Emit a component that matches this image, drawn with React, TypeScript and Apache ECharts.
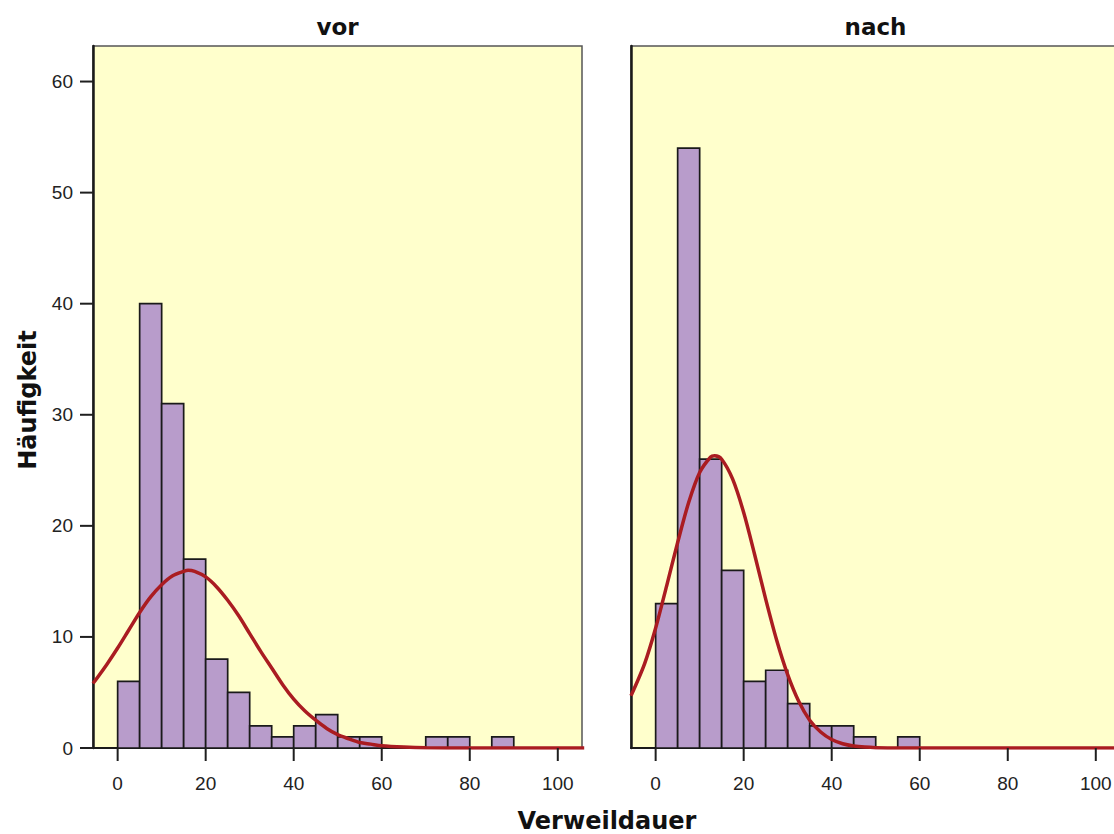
import React, { useEffect, useRef } from "react";
import * as echarts from "echarts";

// Histogram bins (width 5, starting at 0)
const binWidth = 5;
const vorCounts = [6, 40, 31, 17, 8, 5, 2, 1, 2, 3, 1, 1, 0, 0, 1, 1, 0, 1];
const nachCounts = [13, 54, 26, 16, 6, 7, 4, 2, 2, 1, 0, 1];

// Normal curve points
const vorCurveX = [-5.6, -2.5, 0, 2.5, 5, 7.5, 10, 12.5, 15, 16, 17.5, 20, 22.5, 25, 27.5, 30, 32.5, 35, 37.5, 40, 42.5, 45, 47.5, 50, 52.5, 55, 57.5, 60, 65, 70, 80, 106];
const vorCurveY = [5.8, 7.5, 9.0, 10.6, 12.2, 13.6, 14.7, 15.5, 15.9, 16.0, 15.9, 15.4, 14.5, 13.3, 11.9, 10.3, 8.7, 7.2, 5.7, 4.4, 3.35, 2.5, 1.76, 1.2, 0.83, 0.5, 0.35, 0.2, 0.08, 0.02, 0, 0];
const nachCurveX = [-5.6, -2.5, 0, 2.5, 5, 7.5, 10, 12.5, 13.4, 15, 17.5, 20, 22.5, 25, 27.5, 30, 32.5, 35, 37.5, 40, 42.5, 45, 47.5, 50, 55, 106];
const nachCurveY = [4.7, 7.6, 10.8, 14.6, 18.5, 22.1, 24.8, 26.2, 26.3, 26.0, 24.2, 21.2, 17.4, 13.4, 9.7, 6.6, 4.2, 2.5, 1.44, 0.76, 0.38, 0.18, 0.08, 0.03, 0, 0];

// Tick labels
const xTicks = [0, 20, 40, 60, 80, 100];
const yTicks = [0, 10, 20, 30, 40, 50, 60];
const panelTitles = ["vor", "nach"];
const xTitle = "Verweildauer";
const yTitle = "Häufigkeit";

const X_MIN = -5.6;
const X_MAX = 105.5;
const Y_MAX = 63.2;

const BAR_FILL = "#b89ccb";
const BG = "#ffffcc";
const CURVE = "#aa1c21";
const TICK_FONT = "Liberation Sans, Arial, sans-serif";
const TITLE_FONT = "DejaVu Sans, Verdana, sans-serif";
const TICK_W = 2;

function histData(counts: number[]) {
  const out: number[][] = [];
  counts.forEach((c, i) => {
    if (c > 0) out.push([i * binWidth, (i + 1) * binWidth, c]);
  });
  return out;
}

function renderBar(params: any, api: any) {
  const x0 = api.value(0);
  const x1 = api.value(1);
  const c = api.value(2);
  const p0 = api.coord([x0, c]);
  const p1 = api.coord([x1, 0]);
  return {
    type: "rect",
    shape: { x: p0[0], y: p0[1], width: p1[0] - p0[0], height: p1[1] - p0[1] },
    style: { fill: BAR_FILL, stroke: "#1a1a1a", lineWidth: 1.7 },
  };
}

// x ticks: drawn inside a thin strip grid under each panel (y from 1 at the axis to 0 at the tick end)
function renderXTick(params: any, api: any) {
  const top = api.coord([api.value(0), 1]);
  const bottom = api.coord([api.value(0), 0]);
  return {
    type: "rect",
    shape: { x: top[0] - TICK_W / 2, y: top[1], width: TICK_W, height: bottom[1] - top[1] },
    style: { fill: "#1f1f1f" },
  };
}

// y ticks: drawn inside a thin strip grid left of the first panel (x from 0 to 1)
function renderYTick(params: any, api: any) {
  const l = api.coord([0, api.value(1)]);
  const r = api.coord([1, api.value(1)]);
  return {
    type: "rect",
    shape: { x: l[0], y: l[1] - TICK_W / 2, width: r[0] - l[0], height: TICK_W },
    style: { fill: "#1f1f1f" },
  };
}

function textEl(text: string, x: number, y: number, size: number, rotation = 0) {
  return {
    type: "text",
    x,
    y,
    rotation,
    style: { text, font: `bold ${size}px ${TITLE_FONT}`, fill: "#111", textAlign: "center", textVerticalAlign: "middle" },
  };
}

export default function App() {
  const ref = useRef<HTMLDivElement>(null);
  useEffect(() => {
    if (!ref.current) return;
    const chart = echarts.init(ref.current, undefined, { renderer: "svg" });
    const panelGrids = [
      { left: 93, top: 46, width: 489, height: 702 },
      { left: 631, top: 46, width: 489, height: 702 },
    ].map((g) => ({
      ...g,
      show: true,
      containLabel: false,
      outerBoundsMode: "none",
      backgroundColor: BG,
      borderColor: "#555",
      borderWidth: 1.5,
    }));
    const tickGrids = [
      { left: 93, top: 748, width: 489, height: 13 },
      { left: 631, top: 748, width: 489, height: 13 },
      { left: 80, top: 46, width: 13, height: 702 },
    ].map((g) => ({ ...g, show: false, containLabel: false, outerBoundsMode: "none" }));

    const hidden = { show: false };
    const xAxes: any[] = [0, 1].map((i) => ({
      type: "value",
      gridIndex: i,
      min: X_MIN,
      max: X_MAX,
      splitLine: { show: false },
      axisLine: { show: true, onZero: false, lineStyle: { color: "#1a1a1a", width: 2 } },
      axisTick: { show: false },
      axisLabel: {
        show: true,
        customValues: xTicks,
        margin: 26,
        fontFamily: TICK_FONT,
        fontSize: 19,
        color: "#222",
      },
    }));
    const yAxes: any[] = [0, 1].map((i) => ({
      type: "value",
      gridIndex: i,
      min: 0,
      max: Y_MAX,
      splitLine: { show: false },
      axisLine: { show: true, onZero: false, lineStyle: { color: "#1a1a1a", width: 2.5 } },
      axisTick: { show: false },
      axisLabel: {
        show: i === 0,
        customValues: yTicks,
        margin: 20,
        fontFamily: TICK_FONT,
        fontSize: 19,
        color: "#222",
      },
    }));
    // strip axes for ticks (invisible, same scales)
    xAxes.push({ type: "value", gridIndex: 2, min: X_MIN, max: X_MAX, show: false, splitLine: hidden });
    yAxes.push({ type: "value", gridIndex: 2, min: 0, max: 1, inverse: true, show: false, splitLine: hidden });
    xAxes.push({ type: "value", gridIndex: 3, min: X_MIN, max: X_MAX, show: false, splitLine: hidden });
    yAxes.push({ type: "value", gridIndex: 3, min: 0, max: 1, inverse: true, show: false, splitLine: hidden });
    xAxes.push({ type: "value", gridIndex: 4, min: 0, max: 1, show: false, splitLine: hidden });
    yAxes.push({ type: "value", gridIndex: 4, min: 0, max: Y_MAX, show: false, splitLine: hidden });

    const series: any[] = [];
    [vorCounts, nachCounts].forEach((counts, i) => {
      series.push({
        type: "custom",
        xAxisIndex: i,
        yAxisIndex: i,
        renderItem: renderBar,
        data: histData(counts),
        encode: { x: [0, 1], y: 2 },
        z: 2,
      });
    });
    [2, 3].forEach((ai) => {
      series.push({
        type: "custom",
        xAxisIndex: ai,
        yAxisIndex: ai,
        renderItem: renderXTick,
        data: xTicks.map((v) => [v, 1]),
        encode: { x: 0, y: 1 },
        clip: false,
        silent: true,
        z: 20,
      });
    });
    series.push({
      type: "custom",
      xAxisIndex: 4,
      yAxisIndex: 4,
      renderItem: renderYTick,
      data: yTicks.map((v) => [1, v]),
      encode: { x: 0, y: 1 },
      clip: false,
      silent: true,
      z: 20,
    });
    [
      [vorCurveX, vorCurveY],
      [nachCurveX, nachCurveY],
    ].forEach(([xs, ys], i) => {
      series.push({
        type: "line",
        xAxisIndex: i,
        yAxisIndex: i,
        data: xs.map((x, k) => [x, ys[k]]),
        smooth: 0.3,
        showSymbol: false,
        symbol: "none",
        lineStyle: { color: CURVE, width: 3.5 },
        z: 5,
        clip: true,
      });
    });

    chart.setOption({
      animation: false,
      grid: [...panelGrids, ...tickGrids],
      xAxis: xAxes,
      yAxis: yAxes,
      series,
      graphic: [
        textEl(panelTitles[0], 337.5, 27, 23),
        textEl(panelTitles[1], 875.5, 27, 23),
        textEl(xTitle, 607, 821, 24),
        textEl(yTitle, 28, 400, 24, Math.PI / 2),
      ],
    });

    return () => chart.dispose();
  }, []);
  return <div ref={ref} style={{ position: "absolute", left: 0, top: 0, width: 1114, height: 834 }} />;
}
